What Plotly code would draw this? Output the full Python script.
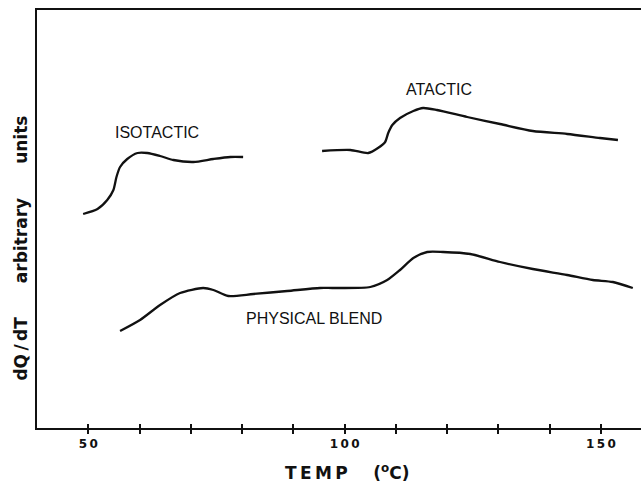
import plotly.graph_objects as go

# DSC traces: temperature (deg C) and dQ/dT in arbitrary units
iso_temp = [49.0, 51.8, 53.7, 54.9, 55.5, 56.2, 57.6, 59.6, 61.5, 64.0, 66.6, 70.5, 74.4, 77.7, 80.2]
iso_dqdt = [214, 219, 228, 238, 251, 261, 269, 275, 275, 272, 268, 266, 269, 271, 271]

ata_temp = [95.6, 101.1, 104.6, 106.5, 107.9, 108.5, 109.3, 110.8, 113.4, 115.3, 118.0,
            123.9, 130.3, 136.7, 143.4, 149.8, 153.3]
ata_dqdt = [277, 278, 275, 280, 286, 295, 303, 310, 317, 320, 318,
            311, 304, 297, 294, 290, 288]

blend_temp = [56.2, 60.1, 64.0, 67.9, 72.4, 74.4, 77.3, 82.2, 88.8, 95.2, 97.8, 105.0,
              108.3, 110.8, 113.4, 116.1, 119.2, 124.5, 130.3, 136.7, 143.4, 148.4, 152.3, 156.2]
blend_dqdt = [97, 108, 123, 135, 140, 138, 132, 134, 137, 140, 140, 141,
              148, 158, 170, 176, 176, 174, 166, 159, 153, 148, 146, 140]

# labelled ticks, plus unlabelled ticks every 10 deg
label_vals = [50, 100, 150]
label_text = ["5\u20090", "1\u20090\u20090", "1\u20095\u20090"]
tick_vals = [50, 60, 70, 80, 90, 100, 110, 120, 130, 140, 150]

# curve labels
labels = [
    ("ISOTACTIC", 63.4, 296),
    ("ATACTIC", 118.4, 339),
    ("PHYSICAL BLEND", 94.0, 110),
]

x_range = [40, 157.8]
y_range = [0, 418]

ink = "#111111"
line_style = dict(color=ink, width=2.3, shape="spline", smoothing=0.7)

fig = go.Figure()
for xs, ys in [(iso_temp, iso_dqdt), (ata_temp, ata_dqdt), (blend_temp, blend_dqdt)]:
    fig.add_trace(go.Scatter(x=xs, y=ys, mode="lines", line=line_style,
                             hoverinfo="skip", showlegend=False))

# companion trace for the overlaid axis carrying the inward half of each tick
fig.add_trace(go.Scatter(x=[x_range[0]], y=[y_range[0]], xaxis="x2", mode="markers",
                         marker=dict(opacity=0), hoverinfo="skip", showlegend=False))

for text, tx, ty in labels:
    fig.add_annotation(x=tx, y=ty, text=text, showarrow=False,
                       font=dict(family="Liberation Sans, Arial", size=16, color=ink))

fig.add_annotation(
    xref="paper", yref="paper", x=0.513, y=-0.105,
    text="T\u2009E\u2009M\u2009P\u2003\u2002(<sup>o</sup>C)",
    showarrow=False, yanchor="middle",
    font=dict(family="DejaVu Sans", size=17, color=ink, weight="bold"),
)
fig.add_annotation(
    xref="paper", yref="paper", x=-0.026, y=0.43,
    text="dQ\u2009/\u2009dT\u2003\u2003arbitrary\u2003\u2003units",
    textangle=-90, showarrow=False, xanchor="center", yanchor="middle",
    font=dict(family="DejaVu Sans", size=17, color=ink, weight="bold"),
)

fig.update_layout(
    width=641, height=485,
    margin=dict(l=37, r=0, t=10, b=57),
    paper_bgcolor="white", plot_bgcolor="white",
    xaxis=dict(
        range=x_range, showgrid=False, zeroline=False,
        showline=True, linecolor=ink, linewidth=2, mirror=True,
        ticks="outside", ticklen=4, tickwidth=2, tickcolor=ink,
        tickmode="array", tickvals=label_vals, ticktext=label_text,
        tickfont=dict(family="DejaVu Sans", size=12, color=ink, weight="bold"),
        minor=dict(ticks="outside", ticklen=4, tickwidth=2, tickcolor=ink,
                   tickmode="array", tickvals=tick_vals, showgrid=False),
    ),
    xaxis2=dict(
        range=x_range, overlaying="x", anchor="y", side="bottom",
        showgrid=False, zeroline=False, showline=False,
        ticks="inside", ticklen=4, tickwidth=2, tickcolor=ink,
        tickmode="array", tickvals=tick_vals, showticklabels=False,
    ),
    yaxis=dict(
        range=y_range, showgrid=False, zeroline=False,
        showline=True, linecolor=ink, linewidth=2,
        ticks="", showticklabels=False,
    ),
)

fig.write_html("out.html")
